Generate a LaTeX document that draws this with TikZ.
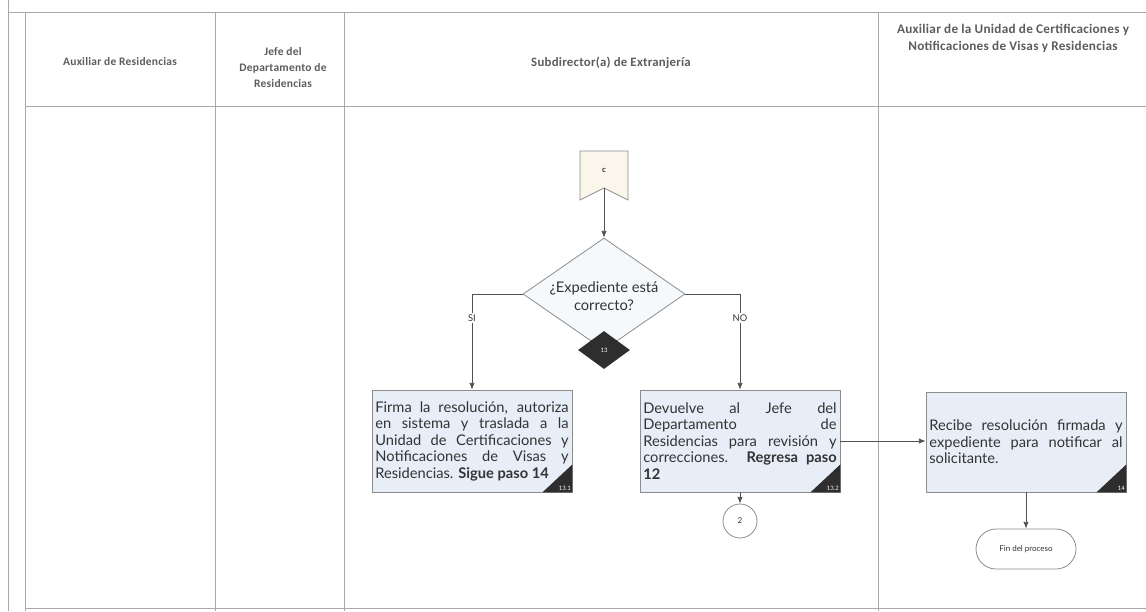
\documentclass[tikz,border=0pt]{standalone}
\usepackage{fontspec}
\setmainfont{Lato}
\newfontfamily\hdrfont[LetterSpace=2]{Carlito}
\usetikzlibrary{shapes.geometric,arrows.meta}
\definecolor{lane}{HTML}{A8A8A8}
\definecolor{boxfill}{HTML}{E8EEF7}
\definecolor{boxline}{HTML}{8C8C8C}
\definecolor{ink}{HTML}{333333}
\definecolor{pagefill}{HTML}{FBF6EC}
\definecolor{decfill}{HTML}{F6F9FC}
\def\jw{145pt}
\newcommand\taskpar[1]{\parbox{\jw}{#1}}
\begin{document}
\begin{tikzpicture}[x=0.75pt,y=-0.75pt,
  lanerule/.style={draw=lane,line width=0.6pt},
  hdr/.style={font=\hdrfont\bfseries\fontsize{8.6}{12}\selectfont,text=ink!80,align=center,inner sep=0pt},
  taskbox/.style={draw=boxline,fill=boxfill,line width=0.6pt,minimum width=150pt,
    minimum height=76.5pt,inner sep=2pt,
    font=\fontsize{11}{12.4}\selectfont,text=ink},
  flow/.style={draw=ink!85,line width=0.6pt,-{Latex[length=5pt,width=4pt]}},
  badgetxt/.style={font=\fontsize{4.5}{5}\selectfont,text=white,inner sep=1pt},
  branch/.style={font=\fontsize{7}{8}\selectfont,text=ink,fill=white,inner sep=1pt},
  smalltxt/.style={font=\fontsize{6}{7}\selectfont,text=ink}
]
\useasboundingbox (0,0) rectangle (1146,611);

% swimlane grid
\draw[lanerule] (8,0) -- (8,611);
\draw[lanerule] (8,12) -- (1146,12);
\draw[lanerule] (25,12) -- (25,611);
\draw[lanerule] (25,106) -- (1146,106);
\draw[lanerule] (25,608) -- (1146,608);
\draw[lanerule] (215,12) -- (215,611);
\draw[lanerule] (344,12) -- (344,611);
\draw[lanerule] (878,12) -- (878,611);

% lane headers
\node[hdr] (h1) at (120,62) {Auxiliar de Residencias};
\node[hdr] (h2) at (283,68) {Jefe del\\Departamento de\\Residencias};
\node[hdr,font=\hdrfont\bfseries\fontsize{9.6}{12}\selectfont] (h3) at (611,63) {Subdirector(a) de Extranjería};
\node[hdr,font=\hdrfont\bfseries\fontsize{9.9}{12.8}\selectfont] (h4) at (1013,38)
  {Auxiliar de la Unidad de Certificaciones y\\Notificaciones de Visas y Residencias};

% off-page connector C
\draw[draw=boxline,fill=pagefill,line width=0.6pt]
  (580,151) -- (628,151) -- (628,200) -- (604,188) -- (580,200) -- cycle;
\coordinate (Cnotch) at (604,188);
\node[font=\fontsize{6}{7}\selectfont\bfseries,text=ink] (C) at (604,170) {c};

% decision
\node[diamond,draw=boxline,fill=decfill,line width=0.6pt,minimum width=121.5pt,
  minimum height=84pt,inner sep=0pt] (dec) at (604,294) {};
\node[font=\fontsize{11}{13.5}\selectfont,text=ink,align=center] (dectxt) at (604,296)
  {¿Expediente está\\correcto?};
\node[diamond,fill=ink!90!black,minimum width=39pt,minimum height=28.5pt,inner sep=0pt,
  font=\fontsize{4.5}{5}\selectfont,text=white] (decbadge) at (604,350) {13};

% tasks
\node[taskbox] (b131) at (472,441) {\taskpar{%
Firma la resolución, autoriza\linebreak
en sistema y traslada a la\linebreak
Unidad de Certificaciones y\linebreak
Notificaciones de Visas y\linebreak
Residencias. \textbf{Sigue paso 14}}};
\node[taskbox] (b132) at (740,441) {\taskpar{%
Devuelve al Jefe del\linebreak
Departamento de\linebreak
Residencias para revisión y\linebreak
correcciones. \textbf{Regresa paso}\linebreak
\textbf{12}}};
\node[taskbox,minimum height=75pt] (b14) at (1026,442) {\taskpar{%
Recibe resolución firmada y\linebreak
expediente para notificar al\linebreak
solicitante.}};

% step badges
\foreach \b/\t in {b131/13.1,b132/13.2,b14/14}{
  \fill[ink!90!black] (\b.south east) -- ++(-30,0) -- ++(30,-28) -- cycle;
  \node[badgetxt,anchor=south east] at (\b.south east) {\t};
}

% end points
\node[circle,draw=boxline,fill=white,line width=0.6pt,minimum size=25.5pt,inner sep=0pt,
  smalltxt] (c2) at (740,521) {2};
\node[rectangle,rounded corners=15pt,draw=boxline,fill=white,line width=0.6pt,
  minimum width=75pt,minimum height=30pt,smalltxt] (fin) at (1026,549) {Fin del proceso};

% connectors
\draw[flow] (Cnotch) -- (dec.north);
\draw[flow] (dec.west) -| (b131.north);
\draw[flow] (dec.east) -| (b132.north);
\node[branch] (si) at (472,318) {SI};
\node[branch] (no) at (740,318) {NO};
\draw[flow] (b132.east) -- (b132.east -| b14.west);
\draw[flow] (b132.south) -- (c2.north);
\draw[flow] (b14.south) -- (fin.north);
\end{tikzpicture}
\end{document}
